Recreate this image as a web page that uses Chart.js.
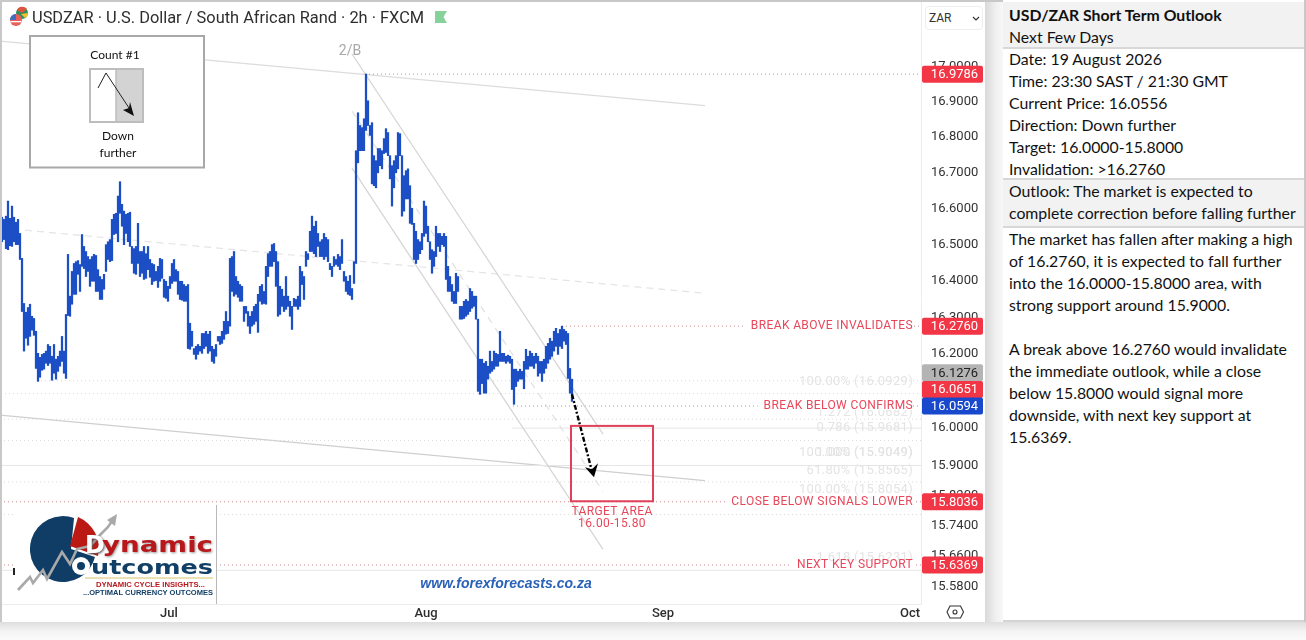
<!DOCTYPE html>
<html>
<head>
<meta charset="utf-8">
<title>USD/ZAR Short Term Outlook</title>
<script src="https://cdn.jsdelivr.net/npm/chart.js@4"></script>
<style>
  html, body { margin: 0; padding: 0; background: #fff; width: 1306px; height: 640px; overflow: hidden; }
  #chartWrap { position: absolute; left: 0; top: 0; width: 985px; height: 623px; background: #fff; }
  #overlay { position: absolute; left: 0; top: 0; }
  #topEdge { position: absolute; left: 0; top: 0; width: 1306px; height: 2px; background: #c8c8c8; }
  #leftEdge { position: absolute; left: 0; top: 0; width: 2px; height: 622px; background: #c8c8c8; }
  #gap { position: absolute; left: 985px; top: 2px; width: 18px; height: 621px; background: linear-gradient(90deg, #d9d9d9, #f0f0f0 60%, #f7f7f7); }
  #bottomEdge { position: absolute; left: 0; top: 622px; width: 1306px; height: 18px; background: linear-gradient(180deg, #dedede, #f3f3f3 50%, #fbfbfb); }
  #zarBox { position: absolute; left: 925px; top: 6px; width: 58px; height: 24px; border: 1px solid #eeeeee; border-radius: 4px; box-sizing: border-box; font: 12px Roboto, sans-serif; color: #333; line-height: 22px; padding-left: 3px; background: #fff; }
  #panel { position: absolute; left: 1003px; top: 0; width: 301px; height: 620px; background: #fff; border-bottom: 2px solid #d4d4d4; font: 15.8px/22px Lato, sans-serif; color: #111; white-space: nowrap; }
  #panel div { position: absolute; left: 0; width: 289px; padding: 0 6px; }
  #panel div.shade { background: #f2f2f2; }
  #panel div.rule { background: #d8d8d8; height: 2px; width: 301px; padding: 0; }
  #panelEdge { position: absolute; left: 1304px; top: 0; width: 2px; height: 622px; background: #c8c8c8; }
</style>
</head>
<body>
<div id="chartWrap"><canvas id="zarChart" width="985" height="623"></canvas></div>

<svg id="overlay" width="985" height="623" viewBox="0 0 985 623" xmlns="http://www.w3.org/2000/svg">
  <defs><filter id="soft"><feGaussianBlur stdDeviation="0.8"/></filter></defs>
  <!-- header -->
  <circle cx="22" cy="13" r="6" fill="#2f8f5b"/>
  <path d="M17 10 A6 6 0 0 1 27 9 L22 13 Z" fill="#e0543f"/>
  <path d="M28 13 A6 6 0 0 1 25 18 L21 14 Z" fill="#f2c230"/>
  <circle cx="16" cy="20" r="6" fill="#e8605a"/>
  <path d="M10 20 A6 6 0 0 1 16 14 L16 20 Z" fill="#3a6fc4"/>
  <rect x="10.5" y="21" width="11" height="1.3" fill="#fff"/>
  <text x="32" y="22.5" font-family="Roboto" font-size="16.4" fill="#2e2e2e">USDZAR · U.S. Dollar / South African Rand · 2h · FXCM</text>
  <path d="M435 11 H447 L443.5 17 L447 23 H435 Z" fill="#86d29a"/>
  <text x="350" y="55" text-anchor="middle" font-family="Roboto" font-size="14" fill="#a8a8a8">2/B</text>

  <!-- count box -->
  <rect x="30" y="36" width="174" height="131.5" fill="#fff" stroke="#a8a8a8" stroke-width="2"/>
  <text x="115" y="59" text-anchor="middle" font-family="Lato" font-size="12" fill="#111">Count #1</text>
  <rect x="90" y="69" width="53" height="53" fill="#fff" stroke="#bdbdbd" stroke-width="2"/>
  <rect x="116" y="70" width="26" height="51" fill="#d3d3d3"/>
  <line x1="116" y1="70" x2="116" y2="121" stroke="#bdbdbd" stroke-width="1.5"/>
  <path d="M98 88 L106 73 L131 111" fill="none" stroke="#222" stroke-width="1"/>
  <path d="M134 116 L123 110 L129 108 L130 102 Z" fill="#111"/>
  <text x="118" y="140" text-anchor="middle" font-family="Lato" font-size="12" fill="#111">Down</text>
  <text x="118" y="157" text-anchor="middle" font-family="Lato" font-size="12" fill="#111">further</text>

  <!-- logo -->
  <rect x="15" y="505" width="201" height="98" fill="#fff"/>
  <line x1="216.5" y1="505" x2="216.5" y2="604" stroke="#b8b8b8" stroke-width="1"/>
  <rect x="13" y="568" width="2" height="7" fill="#222"/>
  <path d="M71 549 L74 518 A33 33 0 1 0 95 557 Z" fill="#0f3d66"/>
  <path d="M70 546 L78 517 A34 34 0 0 1 98 556 Z" fill="#bb1a14"/>
  <path d="M18 590 L30 577 L33 583 L43 570 L47 579 L62 552 L70 564 L77 549 L90 546 L100 535 L108 527 L114 518" fill="none" stroke="#a9a9a9" stroke-width="2.6"/>
  <path d="M117 514 L107 520 L115 526 Z" fill="#a9a9a9"/>
  <text x="86" y="554" font-family="DejaVu Sans" font-weight="bold" font-size="24" fill="#555" filter="url(#soft)">D</text>
  <text x="85" y="553" font-family="DejaVu Sans" font-weight="bold" font-size="24" fill="#fff">D</text>
  <text x="103" y="553" font-family="DejaVu Sans" font-weight="bold" font-size="21" fill="#999" filter="url(#soft)" textLength="111" lengthAdjust="spacingAndGlyphs" aria-hidden="true">ynamic</text>
  <text x="102" y="552" font-family="DejaVu Sans" font-weight="bold" font-size="21" fill="#b8171c" textLength="111" lengthAdjust="spacingAndGlyphs">ynamic</text>
  <circle cx="81" cy="566" r="9" fill="#fff"/>
  <circle cx="81" cy="566" r="4" fill="#0f3d66"/>
  <text x="91" y="574" font-family="DejaVu Sans" font-weight="bold" font-size="20" fill="#123f66" textLength="122" lengthAdjust="spacingAndGlyphs">utcomes</text>
  <line x1="85" y1="578" x2="213" y2="578" stroke="#e6d79c" stroke-width="1.5"/>
  <text x="96" y="587" font-family="Liberation Sans" font-weight="bold" font-size="7.5" fill="#b8171c" textLength="109" lengthAdjust="spacingAndGlyphs">DYNAMIC CYCLE INSIGHTS...</text>
  <text x="83" y="595" font-family="Liberation Sans" font-weight="bold" font-size="7.5" fill="#123f66" textLength="130" lengthAdjust="spacingAndGlyphs">...OPTIMAL CURRENCY OUTCOMES</text>

  <text x="506" y="588" text-anchor="middle" font-family="Liberation Sans" font-style="italic" font-weight="bold" font-size="14" fill="#2a62b8">www.forexforecasts.co.za</text>

  <!-- settings icon -->
  <path d="M949 606.5 L955 603.5 L961 606.5 L961 617 L955 620 L949 617 Z" transform="translate(955 612) rotate(90) translate(-955 -612)" fill="none" stroke="#333" stroke-width="1.1"/>
  <circle cx="955" cy="612" r="2" fill="none" stroke="#333" stroke-width="1.1"/>
</svg>

<div id="zarBox">ZAR<svg width="8" height="6" style="position:absolute;left:46px;top:9px"><path d="M1 1 L4 4 L7 1" fill="none" stroke="#333" stroke-width="1.2"/></svg></div>
<div id="gap"></div>
<div id="bottomEdge"></div>
<div id="topEdge"></div>
<div id="leftEdge"></div>

<div id="panel">
  <div class="shade" style="top:2px;height:46px"></div>
  <div class="shade" style="top:180px;height:46px"></div>
  <div style="top:4px"><b>USD/ZAR Short Term Outlook</b><br>Next Few Days</div>
  <div style="top:48px">Date: 19 August 2026<br>Time: 23:30 SAST / 21:30 GMT<br>Current Price: 16.0556<br>Direction: Down further<br>Target: 16.0000-15.8000<br>Invalidation: &gt;16.2760</div>
  <div style="top:180px">Outlook: The market is expected to<br>complete correction before falling further</div>
  <div style="top:228px">The market has fallen after making a high<br>of 16.2760, it is expected to fall further<br>into the 16.0000-15.8000 area, with<br>strong support around 15.9000.<br><br>A break above 16.2760 would invalidate<br>the immediate outlook, while a close<br>below 15.8000 would signal more<br>downside, with next key support at<br>15.6369.</div>
  <div class="rule" style="top:47px"></div>
  <div class="rule" style="top:178px"></div>
  <div class="rule" style="top:226px"></div>
</div>
<div id="panelEdge"></div>

<script>
// Data start
// 2h bars, one per barStep of the time axis
const barStart = 2;
const barStep = 2;
const barHighs = [
  16.576, 16.570, 16.579, 16.621, 16.573, 16.607, 16.576, 16.562, 16.570, 16.531, 16.462, 16.338, 16.314, 16.327, 16.336, 16.303,
  16.297, 16.262, 16.202, 16.191, 16.199, 16.202, 16.208, 16.226, 16.221, 16.194, 16.226, 16.186, 16.194, 16.208, 16.248, 16.208,
  16.308, 16.473, 16.358, 16.426, 16.448, 16.453, 16.456, 16.445, 16.528, 16.495, 16.481, 16.467, 16.459, 16.467, 16.473, 16.470,
  16.431, 16.412, 16.404, 16.418, 16.500, 16.508, 16.514, 16.570, 16.584, 16.587, 16.635, 16.675, 16.612, 16.593, 16.584, 16.587,
  16.590, 16.495, 16.489, 16.495, 16.559, 16.481, 16.481, 16.495, 16.475, 16.495, 16.459, 16.448, 16.445, 16.426, 16.440, 16.462,
  16.459, 16.404, 16.399, 16.385, 16.412, 16.448, 16.459, 16.431, 16.426, 16.399, 16.399, 16.390, 16.385, 16.390, 16.284, 16.262,
  16.215, 16.221, 16.226, 16.221, 16.256, 16.256, 16.262, 16.254, 16.262, 16.221, 16.213, 16.226, 16.248, 16.248, 16.262, 16.289,
  16.316, 16.289, 16.462, 16.467, 16.481, 16.412, 16.399, 16.390, 16.385, 16.330, 16.330, 16.316, 16.303, 16.316, 16.330, 16.336,
  16.363, 16.385, 16.390, 16.371, 16.440, 16.475, 16.481, 16.500, 16.503, 16.481, 16.453, 16.385, 16.377, 16.358, 16.412, 16.358,
  16.344, 16.330, 16.352, 16.349, 16.358, 16.440, 16.426, 16.412, 16.481, 16.475, 16.537, 16.579, 16.551, 16.565, 16.531, 16.508,
  16.514, 16.531, 16.520, 16.514, 16.448, 16.440, 16.467, 16.459, 16.473, 16.467, 16.514, 16.426, 16.412, 16.399, 16.415, 16.379,
  16.453, 16.762, 16.869, 16.833, 16.827, 16.852, 16.979, 16.903, 16.833, 16.841, 16.748, 16.734, 16.768, 16.768, 16.762, 16.796,
  16.824, 16.813, 16.748, 16.720, 16.734, 16.748, 16.813, 16.810, 16.748, 16.692, 16.706, 16.711, 16.664, 16.601, 16.559, 16.537,
  16.514, 16.508, 16.531, 16.621, 16.607, 16.551, 16.508, 16.486, 16.481, 16.551, 16.531, 16.531, 16.523, 16.531, 16.523, 16.440,
  16.412, 16.390, 16.371, 16.421, 16.412, 16.330, 16.330, 16.344, 16.349, 16.344, 16.379, 16.371, 16.358, 16.358, 16.295, 16.186,
  16.186, 16.175, 16.180, 16.167, 16.208, 16.180, 16.208, 16.202, 16.199, 16.262, 16.202, 16.202, 16.194, 16.197, 16.194, 16.186,
  16.159, 16.159, 16.153, 16.159, 16.153, 16.180, 16.213, 16.194, 16.208, 16.202, 16.194, 16.202, 16.194, 16.180, 16.180, 16.186,
  16.221, 16.229, 16.243, 16.235, 16.262, 16.270, 16.256, 16.267, 16.276, 16.267, 16.262, 16.256, 16.161, 16.132
];
const barLows = [
  16.508, 16.514, 16.489, 16.486, 16.497, 16.495, 16.508, 16.500, 16.500, 16.459, 16.316, 16.208, 16.243, 16.224, 16.248, 16.265,
  16.251, 16.161, 16.126, 16.137, 16.156, 16.159, 16.175, 16.169, 16.175, 16.129, 16.148, 16.132, 16.153, 16.167, 16.180, 16.148,
  16.134, 16.305, 16.303, 16.336, 16.363, 16.363, 16.418, 16.371, 16.440, 16.434, 16.412, 16.426, 16.385, 16.399, 16.399, 16.371,
  16.371, 16.349, 16.349, 16.377, 16.426, 16.459, 16.453, 16.456, 16.528, 16.531, 16.508, 16.587, 16.551, 16.500, 16.531, 16.508,
  16.495, 16.448, 16.421, 16.418, 16.448, 16.412, 16.421, 16.404, 16.407, 16.431, 16.410, 16.390, 16.399, 16.401, 16.382, 16.399,
  16.407, 16.355, 16.352, 16.344, 16.379, 16.393, 16.399, 16.399, 16.363, 16.349, 16.347, 16.344, 16.344, 16.215, 16.213, 16.221,
  16.199, 16.186, 16.199, 16.208, 16.202, 16.215, 16.221, 16.202, 16.208, 16.180, 16.175, 16.194, 16.235, 16.226, 16.229, 16.240,
  16.254, 16.256, 16.276, 16.371, 16.358, 16.363, 16.355, 16.344, 16.344, 16.289, 16.311, 16.276, 16.256, 16.276, 16.281, 16.289,
  16.259, 16.344, 16.336, 16.338, 16.336, 16.412, 16.440, 16.440, 16.453, 16.385, 16.303, 16.308, 16.330, 16.316, 16.322, 16.330,
  16.303, 16.267, 16.330, 16.330, 16.322, 16.330, 16.390, 16.349, 16.440, 16.459, 16.481, 16.481, 16.475, 16.467, 16.495, 16.467,
  16.467, 16.459, 16.467, 16.453, 16.431, 16.412, 16.440, 16.445, 16.440, 16.431, 16.448, 16.399, 16.371, 16.363, 16.360, 16.349,
  16.393, 16.448, 16.728, 16.762, 16.762, 16.762, 16.819, 16.833, 16.805, 16.669, 16.664, 16.658, 16.700, 16.720, 16.711, 16.754,
  16.757, 16.748, 16.683, 16.607, 16.658, 16.700, 16.711, 16.748, 16.579, 16.593, 16.627, 16.627, 16.559, 16.556, 16.459, 16.448,
  16.459, 16.475, 16.486, 16.523, 16.531, 16.508, 16.459, 16.421, 16.440, 16.467, 16.495, 16.481, 16.500, 16.495, 16.404, 16.371,
  16.371, 16.344, 16.338, 16.338, 16.371, 16.295, 16.295, 16.297, 16.303, 16.308, 16.316, 16.325, 16.330, 16.295, 16.099, 16.091,
  16.120, 16.094, 16.094, 16.132, 16.148, 16.153, 16.159, 16.167, 16.167, 16.180, 16.180, 16.180, 16.175, 16.180, 16.175, 16.104,
  16.064, 16.112, 16.126, 16.132, 16.132, 16.106, 16.159, 16.159, 16.167, 16.167, 16.161, 16.175, 16.140, 16.148, 16.126, 16.148,
  16.161, 16.175, 16.186, 16.194, 16.208, 16.221, 16.199, 16.221, 16.215, 16.235, 16.226, 16.134, 16.094, 16.072
];

// Price axis and time axis
const priceTicks = [17, 16.9, 16.8, 16.7, 16.6, 16.5, 16.4, 16.3, 16.2, 16, 15.9, 15.82, 15.74, 15.66, 15.58];
const priceMin = 15.535;
const priceMax = 17.191;
const monthTicks = [169, 426, 663, 910];
const monthNames = ["Jul", "Aug", "Sep", "Oct"];

// Price tags on the axis, values and their colours
const tagValues = [16.9786, 16.276, 16.1276, 16.0651, 16.0594, 15.8036, 15.6369];
const tagColors = ["#f23645", "#f23645", "#b4b4b4", "#f23645", "#1848cc", "#f23645", "#f23645"];
const tagTextColors = ["#fff", "#fff", "#222", "#fff", "#fff", "#fff", "#fff"];
const tagShift = [0, 0, -8, -14.5, 0, 0, 0]; // tags pushed apart so they do not overlap

// Sloping lines, [bar, price] pairs
const topLine = [[0, 17.073], [705, 16.889]];
const midDashLine = [[25, 16.54], [705, 16.366]];
const lowLine = [[0, 16.035], [705, 15.86]];
const channelUpper = [[352, 17.036], [603, 15.984]];
const channelMid = [[352, 16.874], [603, 15.831]];
const channelLower = [[352, 16.713], [603, 15.678]];
const arrowPath = [[572, 16.091], [593, 15.874]];

// Level lines, [from bar, to bar, price]
const redLevels = [[365, 921, 16.9786], [562, 921, 16.276], [513, 921, 16.0594], [0, 921, 15.8036], [0, 921, 15.6369]];
const greyDotLevels = [[37, 921, 16.1276], [5, 921, 16.0929], [0, 921, 16.024], [0, 921, 15.967], [0, 921, 15.8565], [0, 921, 15.77]];
const greySolidLevels = [[512, 921, 16], [0, 921, 15.9], [0, 921, 15.6231]];

// Target box
const targetBars = [571, 653];
const targetPrices = [16.006, 15.805];

// Labels
const redLabels = ["BREAK ABOVE INVALIDATES", "BREAK BELOW CONFIRMS", "CLOSE BELOW SIGNALS LOWER", "NEXT KEY SUPPORT"];
const redLabelPrices = [16.276, 16.0594, 15.8036, 15.6369];
const fibLabels = ["100.00% (16.0929)", "1.272 (16.0682)", "0.786 (15.9681)", "100.00% (15.9049)", "1.000 (15.9049)", "61.80% (15.8565)", "100.00% (15.8054)", "1.618 (15.6231)"];
const fibLabelPrices = [16.124, 16.04, 16.0, 15.933, 15.933, 15.887, 15.836, 15.657];
// Data end

const barPoints = barHighs.map((h, i) => ({ x: barStart + i * barStep, y: [barLows[i], h] }));

function linePoints(pairs) {
  return pairs.map(p => ({ x: p[0], y: p[1] }));
}

function lineSet(pairs, color, width, dash, order) {
  return { type: "line", data: linePoints(pairs), borderColor: color, borderWidth: width, borderDash: dash, pointRadius: 0, fill: false, order: order };
}

function levelSets(levels, color, width, dash) {
  return levels.map(l => lineSet([[l[0], l[2]], [l[1], l[2]]], color, width, dash, 3));
}

// Labels, target box, arrow head and price tags
const annotationsPlugin = {
  id: "annotations",
  afterDatasetsDraw(chart) {
    const ctx = chart.ctx;
    const x = chart.scales.x;
    const y = chart.scales.y;
    ctx.save();

    // target box
    const left = x.getPixelForValue(targetBars[0]);
    const right = x.getPixelForValue(targetBars[1]);
    const top = y.getPixelForValue(targetPrices[0]);
    const bottom = y.getPixelForValue(targetPrices[1]);
    ctx.strokeStyle = "#e0405a";
    ctx.lineWidth = 2;
    ctx.strokeRect(left, top, right - left, bottom - top);

    ctx.textBaseline = "middle";
    ctx.letterSpacing = "0.3px";

    // faint fib labels
    ctx.font = "13px Roboto";
    ctx.textAlign = "right";
    ctx.fillStyle = "#e4e4e4";
    fibLabels.forEach((t, i) => ctx.fillText(t, 913, y.getPixelForValue(fibLabelPrices[i])));

    // red labels with a white gap behind them
    ctx.font = "12px Roboto";
    ctx.letterSpacing = "0.38px";
    redLabels.forEach((t, i) => {
      const py = y.getPixelForValue(redLabelPrices[i]);
      const w = ctx.measureText(t).width;
      ctx.fillStyle = "#fff";
      ctx.fillRect(913 - w - 6, py - 4, w + 6, 8);
      ctx.fillStyle = "#e8475a";
      ctx.fillText(t, 913, py);
    });

    ctx.textAlign = "center";
    ctx.fillStyle = "#e8475a";
    ctx.fillText("TARGET AREA", (left + right) / 2, bottom + 11);
    ctx.fillText("16.00-15.80", (left + right) / 2, bottom + 23);

    // arrow head
    const tipX = x.getPixelForValue(arrowPath[1][0]);
    const tipY = y.getPixelForValue(arrowPath[1][1]);
    ctx.fillStyle = "#000";
    ctx.beginPath();
    ctx.moveTo(tipX + 1, tipY + 2);
    ctx.lineTo(tipX - 8, tipY - 8);
    ctx.lineTo(tipX - 1, tipY - 6);
    ctx.lineTo(tipX + 5, tipY - 12);
    ctx.closePath();
    ctx.fill();

    // price tags
    ctx.letterSpacing = "0px";
    ctx.font = "13px Roboto";
    tagValues.forEach((v, i) => {
      const py = y.getPixelForValue(v) + tagShift[i];
      ctx.fillStyle = tagColors[i];
      ctx.beginPath();
      ctx.roundRect(922, py - 8.5, 61, 17, 2);
      ctx.fill();
      ctx.fillStyle = tagTextColors[i];
      ctx.fillText(v.toFixed(4), 954.5, py + 0.5);
    });
    ctx.restore();
  },
};

// Chart start
const datasets = [
  { type: "bar", data: barPoints, backgroundColor: "#1c4ec4", barThickness: 1.6, order: 1 },
  lineSet(arrowPath, "#000", 2.4, [5, 2, 2, 2], 0),
  lineSet(topLine, "#dcdcdc", 1.2, [], 4),
  lineSet(midDashLine, "#e4e4e4", 1.2, [7, 5], 4),
  lineSet(lowLine, "#cfcfcf", 1.2, [], 4),
  lineSet(channelUpper, "#d6d6d6", 1.3, [], 2),
  lineSet(channelMid, "#e0e0e0", 1.2, [7, 6], 2),
  lineSet(channelLower, "#d6d6d6", 1.3, [], 2),
  ...levelSets(redLevels, "#c98a90", 1, [1, 3]),
  ...levelSets(greyDotLevels, "#dadada", 1, [1, 3]),
  ...levelSets(greySolidLevels, "#e6e6e6", 1, []),
];

const config = {
  type: "bar",
  data: { datasets: datasets },
  plugins: [annotationsPlugin],
  options: {
    responsive: false,
    animation: false,
    devicePixelRatio: 1,
    layout: { padding: 0 },
    plugins: { legend: { display: false }, tooltip: { enabled: false }, title: { display: false } },
    scales: {
      x: {
        type: "linear",
        min: 0,
        max: 921,
        offset: false,
        grid: { display: false, drawTicks: false },
        border: { color: "#ececec" },
        afterBuildTicks: s => { s.ticks = monthTicks.map(v => ({ value: v })); },
        afterFit: s => { s.height = 19; s.paddingLeft = 0; s.paddingRight = 0; },
        ticks: {
          autoSkip: false,
          maxRotation: 0,
          padding: 2,
          color: "#2e2e2e",
          font: { family: "Roboto", size: 13, weight: "500" },
          callback: (v, i) => monthNames[i],
        },
      },
      y: {
        type: "logarithmic",
        position: "right",
        min: priceMin,
        max: priceMax,
        bounds: "data",
        grid: { display: false, drawTicks: false },
        border: { color: "#ececec" },
        afterBuildTicks: s => { s.ticks = priceTicks.map(v => ({ value: v })); },
        afterFit: s => { s.width = 64; s.paddingTop = 0; s.paddingBottom = 0; },
        ticks: {
          autoSkip: false,
          padding: 10,
          color: "#333",
          font: { family: "Roboto", size: 13 },
          callback: v => Number(v).toFixed(4),
        },
      },
    },
  },
};

const zarChart = new Chart(document.getElementById("zarChart"), config);
// Chart end
</script>
</body>
</html>
